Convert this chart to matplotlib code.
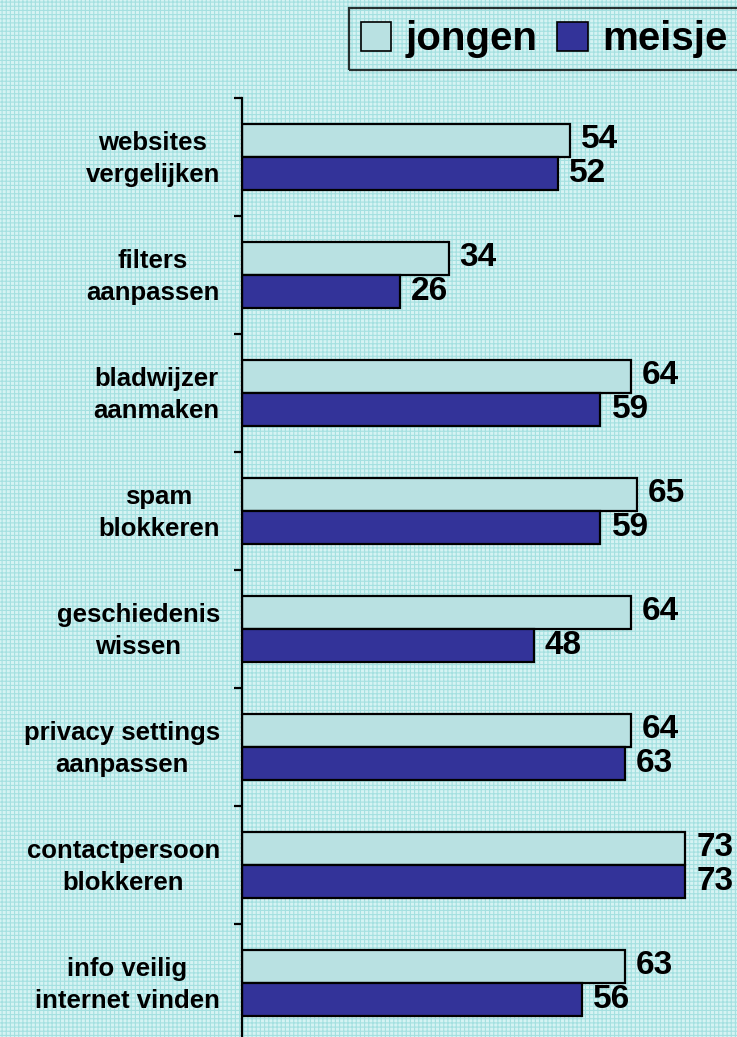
import matplotlib
matplotlib.use("Agg")
import matplotlib.pyplot as plt
import matplotlib.transforms as mtransforms
import numpy as np
from matplotlib.patches import Rectangle

# --- data ---
categories = [
    "websites\nvergelijken",
    "filters\naanpassen",
    "bladwijzer\naanmaken",
    "spam\nblokkeren",
    "geschiedenis\nwissen",
    "privacy settings\naanpassen",
    "contactpersoon\nblokkeren",
    "info veilig\ninternet vinden",
]
jongen = [54, 34, 64, 65, 64, 64, 73, 63]
meisje = [52, 26, 59, 59, 48, 63, 73, 56]
series_names = ["jongen", "meisje"]

plt.rcParams["font.family"] = ["Liberation Sans", "DejaVu Sans"]
plt.rcParams["hatch.linewidth"] = 0.8

bg = "#d6f3f3"
grid_col = "#a4e0e0"
light = "#b9e1e2"
dark = "#333399"

fig = plt.figure(figsize=(7.37, 10.37), dpi=100, facecolor=bg)

# textured background (fine grid like the original)
bg_ax = fig.add_axes([0, 0, 1, 1], zorder=-5)
bg_ax.set_axis_off()
bg_ax.add_patch(Rectangle((0, 0), 1, 1, transform=bg_ax.transAxes,
                          facecolor=bg, edgecolor=grid_col, linewidth=0,
                          hatch="+" * 4))

ax = fig.add_axes([242 / 737, 0, 1 - 242 / 737, (1037 - 98) / 1037])
ax.set_facecolor("none")

y = np.arange(len(categories))
h = 0.28
ax.barh(y - h / 2, jongen, height=h, color=light, edgecolor="black",
        linewidth=1.6, label=series_names[0])
ax.barh(y + h / 2, meisje, height=h, color=dark, edgecolor="black",
        linewidth=1.6, label=series_names[1])

for yi, v in zip(y, jongen):
    ax.annotate(str(v), (v, yi - h / 2), xytext=(8, 1), textcoords="offset points",
                ha="left", va="center", fontsize=24, fontweight="bold")
for yi, v in zip(y, meisje):
    ax.annotate(str(v), (v, yi + h / 2), xytext=(8, 0), textcoords="offset points",
                ha="left", va="center", fontsize=24, fontweight="bold")

ax.set_xlim(0, 81.5)
ax.set_ylim(-0.5 + (1037 - 98) / 118, -0.5)

for s in ["top", "right", "bottom"]:
    ax.spines[s].set_visible(False)
ax.spines["left"].set_linewidth(1.6)
ax.set_xticks([])

# boundary ticks between categories
ax.set_yticks(np.arange(len(categories)) - 0.5)
ax.set_yticklabels([])
ax.tick_params(axis="y", which="major", length=6, width=1.6, direction="out")

# category labels, centred multi-line text right-aligned against the axis
lbl_trans = (mtransforms.blended_transform_factory(ax.transAxes, ax.transData)
             + mtransforms.ScaledTranslation(-16 / 72, -1.5 / 72, fig.dpi_scale_trans))
for yi, name in zip(y, categories):
    ax.text(0, yi, name, transform=lbl_trans, ha="right", va="center",
            multialignment="center", linespacing=1.45,
            fontsize=18.5, fontweight="bold")

leg = fig.legend(loc="upper right", bbox_to_anchor=(1.003, 0.992), ncol=2,
                 prop={"weight": "bold", "size": 29},
                 frameon=True, fancybox=False, handlelength=0.75,
                 handleheight=0.75, handletextpad=0.35, columnspacing=0.5,
                 borderpad=0.3, borderaxespad=0)
leg.get_frame().set_edgecolor("black")
leg.get_frame().set_linewidth(1.6)
leg.get_frame().set_facecolor("none")
for hnd in leg.legend_handles:
    hnd.set_linewidth(1.2)

fig.savefig("out.png", dpi=100, facecolor=bg)
